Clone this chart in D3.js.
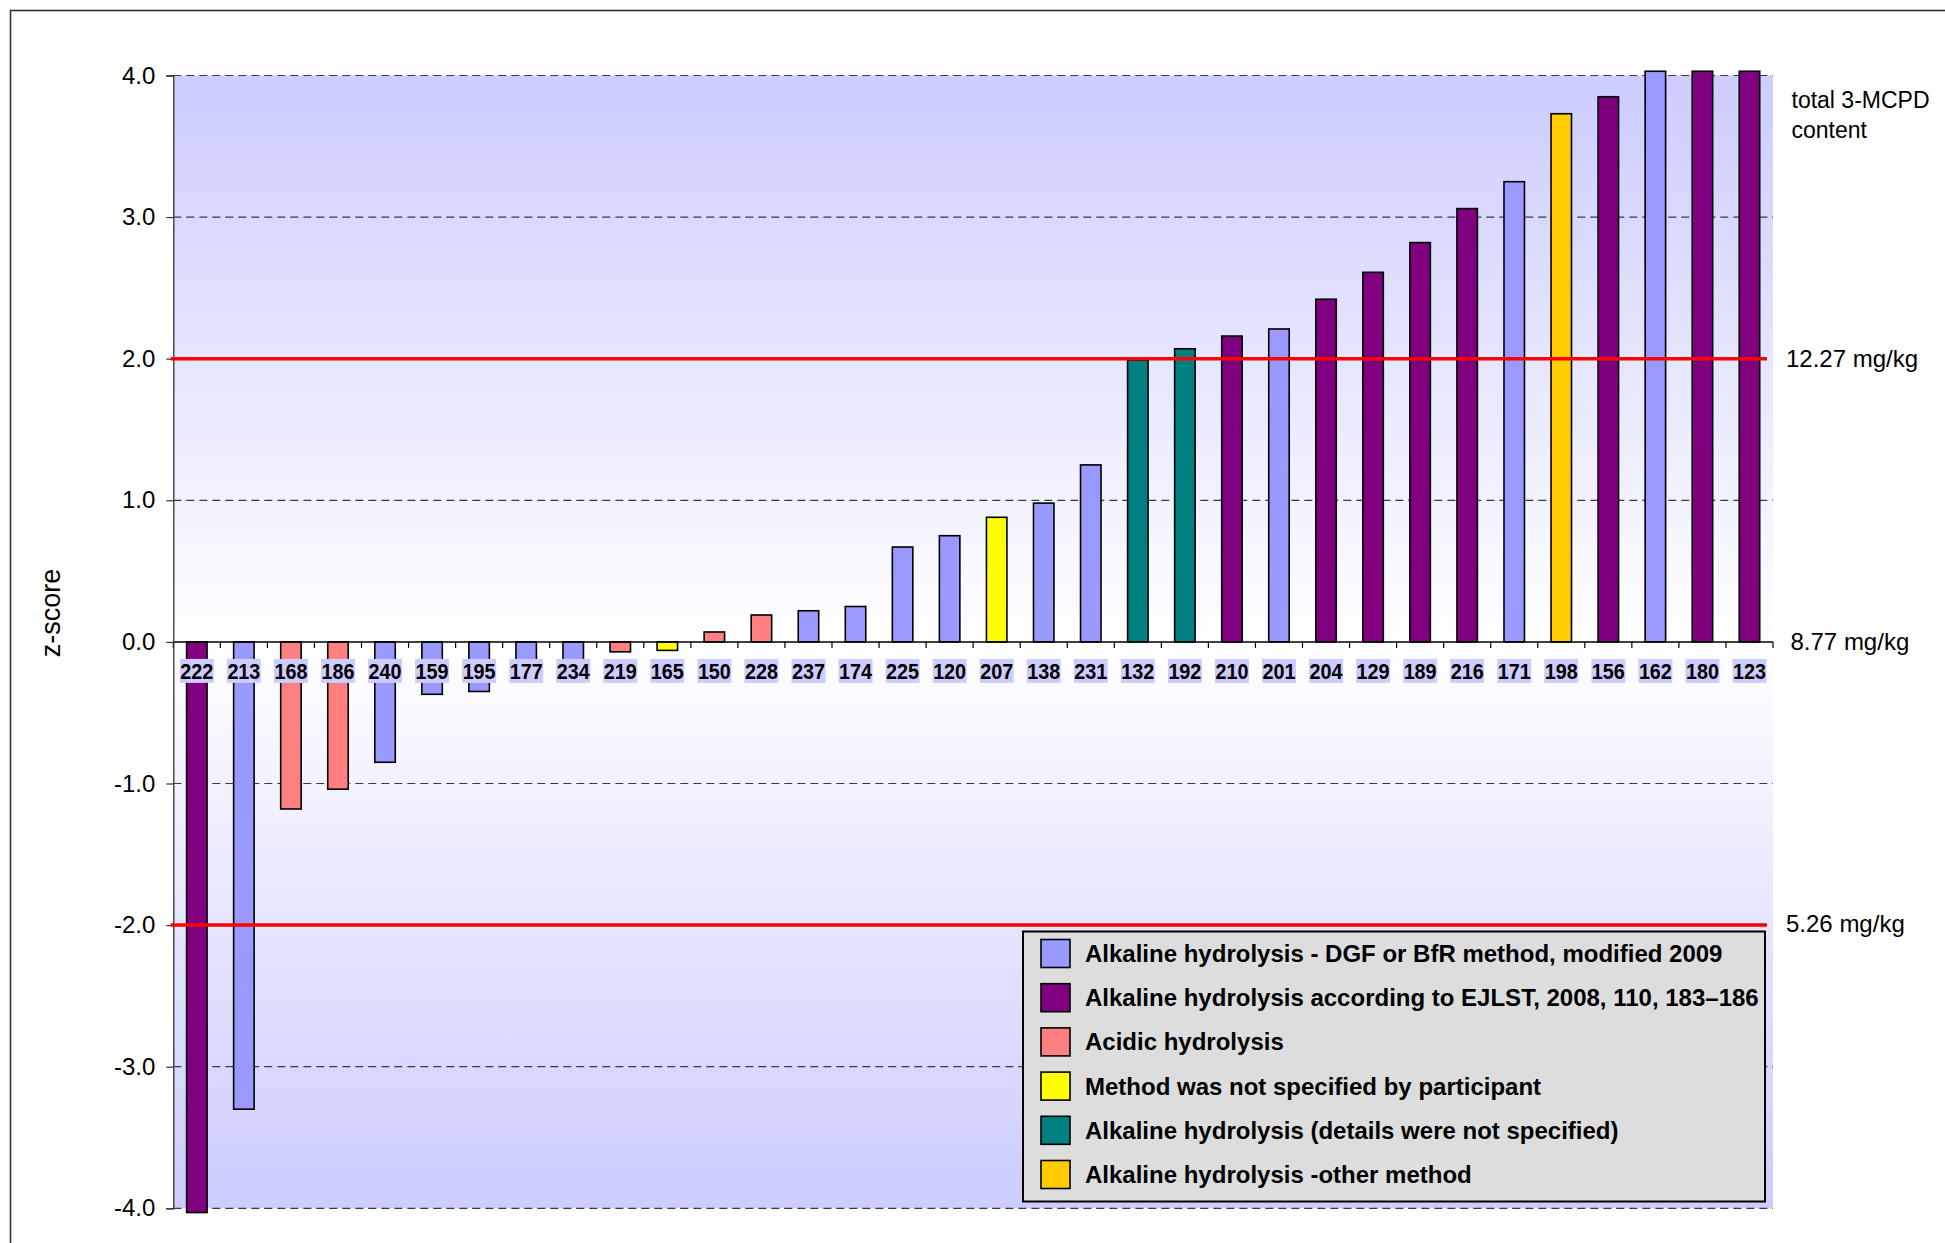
<!DOCTYPE html>
<html>
<head>
<meta charset="utf-8">
<script src="https://cdn.jsdelivr.net/npm/d3@7"></script>
<style>
  html, body { margin: 0; padding: 0; background: #fff; }
  svg { display: block; font-family: "Liberation Sans", Arial, sans-serif; }
</style>
</head>
<body>
<svg id="chart" width="1945" height="1243"></svg>
<script>
// ---------------- data ----------------
const categories = ["222","213","168","186","240","159","195","177","234","219","165",
  "150","228","237","174","225","120","207","138","231","132","192","210","201",
  "204","129","189","216","171","198","156","162","180","123"];
const zScores = [-4.03,-3.30,-1.18,-1.04,-0.85,-0.37,-0.35,-0.25,-0.15,-0.07,-0.06,
  0.07,0.19,0.22,0.25,0.67,0.75,0.88,0.98,1.25,1.99,2.07,2.16,2.21,
  2.42,2.61,2.82,3.06,3.25,3.73,3.85,4.03,4.03,4.03];
// method index per participant (refers to legendLabels)
const methodIdx = [1,0,2,2,0,0,0,0,0,2,3,
  2,2,0,0,0,0,3,0,0,4,4,1,0,
  1,1,1,1,0,5,1,0,1,1];
const legendLabels = [
  "Alkaline hydrolysis - DGF or BfR method, modified 2009",
  "Alkaline hydrolysis according to EJLST, 2008, 110, 183\u2013186",
  "Acidic hydrolysis",
  "Method was not specified by participant",
  "Alkaline hydrolysis (details were not specified)",
  "Alkaline hydrolysis -other method"
];
const methodColors = ["#9999FF","#800080","#FF8080","#FFFF00","#008080","#FFCC00"];
const yTicks = [-4,-3,-2,-1,0,1,2,3,4];
const gridValues = [-4,-3,-1,1,3,4];
const limitValues = [2,-2];
const limitLabels = [
  {v: 2, text: "12.27 mg/kg"},
  {v: 0, text: "8.77 mg/kg"},
  {v: -2, text: "5.26 mg/kg"}
];
const sideTitle = ["total 3-MCPD", "content"];
const yTitle = "z-score";

// ---------------- layout ----------------
const svg = d3.select("#chart");
const L = 173.3, R = 1773, T = 75.5, B = 1208.3;

const y = d3.scaleLinear().domain([-4, 4]).range([B, T]);
const x = d3.scaleBand().domain(categories).range([L, R])
  .paddingInner(0.565).paddingOuter(0.2825);
const color = d3.scaleOrdinal().domain(d3.range(legendLabels.length)).range(methodColors);

// outer frame (extends beyond the picture on right & bottom)
svg.append("rect").attr("x", 10.5).attr("y", 10.5).attr("width", 2100).attr("height", 1400)
  .attr("fill", "none").attr("stroke", "#333").attr("stroke-width", 1.6);

// gradient background
const defs = svg.append("defs");
const grad = defs.append("linearGradient").attr("id", "bg").attr("x1", 0).attr("x2", 0).attr("y1", 0).attr("y2", 1);
grad.append("stop").attr("offset", "0%").attr("stop-color", "#CCCCFF");
grad.append("stop").attr("offset", "50%").attr("stop-color", "#FFFFFF");
grad.append("stop").attr("offset", "100%").attr("stop-color", "#CCCCFF");
svg.append("rect").attr("x", L).attr("y", y(4)).attr("width", R - L).attr("height", y(-4) - y(4))
  .attr("fill", "url(#bg)");

// dashed gridlines
svg.append("g").selectAll("line").data(gridValues).join("line")
  .attr("x1", L).attr("x2", R).attr("y1", d => y(d)).attr("y2", d => y(d))
  .attr("stroke", "#3a3a3a").attr("stroke-width", 1.2).attr("stroke-dasharray", "8,5");

// bars
const data = categories.map((c, i) => ({c, v: zScores[i], m: methodIdx[i]}));
svg.append("g").selectAll("rect").data(data).join("rect")
  .attr("x", d => x(d.c))
  .attr("width", x.bandwidth())
  .attr("y", d => y(Math.max(0, d.v)))
  .attr("height", d => Math.abs(y(d.v) - y(0)))
  .attr("fill", d => color(d.m))
  .attr("stroke", "#000").attr("stroke-width", 1.6);

// x axis line at zero + ticks at category boundaries
const gap = (x.step() - x.bandwidth()) / 2;
const xAxisG = svg.append("g");
xAxisG.append("line").attr("x1", L).attr("x2", R).attr("y1", y(0)).attr("y2", y(0))
  .attr("stroke", "#000").attr("stroke-width", 1.5);
const boundaries = categories.map(c => x(c) - gap).concat([R]);
xAxisG.selectAll("line.tk").data(boundaries).join("line").attr("class", "tk")
  .attr("x1", d => d).attr("x2", d => d).attr("y1", y(0)).attr("y2", y(0) + 6)
  .attr("stroke", "#000").attr("stroke-width", 1.2);

// y axis
const yAxis = d3.axisLeft(y).tickValues(yTicks).tickSize(7).tickPadding(11)
  .tickFormat(d => d.toFixed(1));
const yg = svg.append("g").attr("transform", `translate(${L},0)`).call(yAxis);
yg.select(".domain").attr("stroke", "#333").attr("stroke-width", 1.3);
yg.selectAll(".tick line").attr("stroke", "#333").attr("stroke-width", 1.2);
yg.selectAll(".tick text").attr("font-size", 24).attr("fill", "#000")
  .attr("font-family", "Liberation Sans, Arial, sans-serif");

// y title
svg.append("text").attr("transform", `translate(${60},${613}) rotate(-90)`)
  .attr("text-anchor", "middle").attr("font-size", 27).attr("fill", "#000").text(yTitle);

// red limit lines
svg.append("g").selectAll("line").data(limitValues).join("line")
  .attr("x1", L - 2.5).attr("x2", R - 6).attr("y1", d => y(d)).attr("y2", d => y(d))
  .attr("stroke", "#FF0000").attr("stroke-width", 3.5);

// category labels with light boxes
const lab = svg.append("g").selectAll("g").data(data).join("g")
  .attr("transform", d => `translate(${x(d.c) + x.bandwidth() / 2},${y(0) + 29})`);
lab.append("rect").attr("x", -17).attr("y", -12).attr("width", 34).attr("height", 24)
  .attr("fill", "#CCCCFF");
lab.append("text").attr("text-anchor", "middle").attr("y", 8)
  .attr("font-size", 22).attr("font-weight", "bold").attr("fill", "#000")
  .attr("textLength", 33).attr("lengthAdjust", "spacingAndGlyphs")
  .text(d => d.c);

// right-side labels
svg.append("g").selectAll("text").data(sideTitle).join("text")
  .attr("x", 1791.5).attr("y", (d, i) => 108 + i * 30)
  .attr("font-size", 23).attr("fill", "#000").text(d => d);
svg.append("g").selectAll("text").data(limitLabels).join("text")
  .attr("x", d => d.v === 0 ? 1790.5 : 1786)
  .attr("y", d => y(d.v) - (d.v === -2 ? 2 : 0)).attr("dy", "0.35em")
  .attr("font-size", 24).attr("fill", "#000").text(d => d.text);

// legend
const lg = svg.append("g");
const lgX = 1023, lgY = 931.5, lgW = 742, lgH = 270;
lg.append("rect").attr("x", lgX).attr("y", lgY).attr("width", lgW).attr("height", lgH)
  .attr("fill", "#DDDDDD").attr("stroke", "#000").attr("stroke-width", 2);
const items = lg.selectAll("g.item").data(legendLabels).join("g").attr("class", "item")
  .attr("transform", (d, i) => `translate(${lgX},${953.5 + i * 44.2})`);
items.append("rect").attr("x", 18).attr("y", -14).attr("width", 29).attr("height", 28)
  .attr("fill", (d, i) => methodColors[i]).attr("stroke", "#000").attr("stroke-width", 1.6);
items.append("text").attr("x", 62).attr("y", 8.5)
  .attr("font-size", 24).attr("font-weight", "bold").attr("fill", "#000").text(d => d);
</script>
</body>
</html>
